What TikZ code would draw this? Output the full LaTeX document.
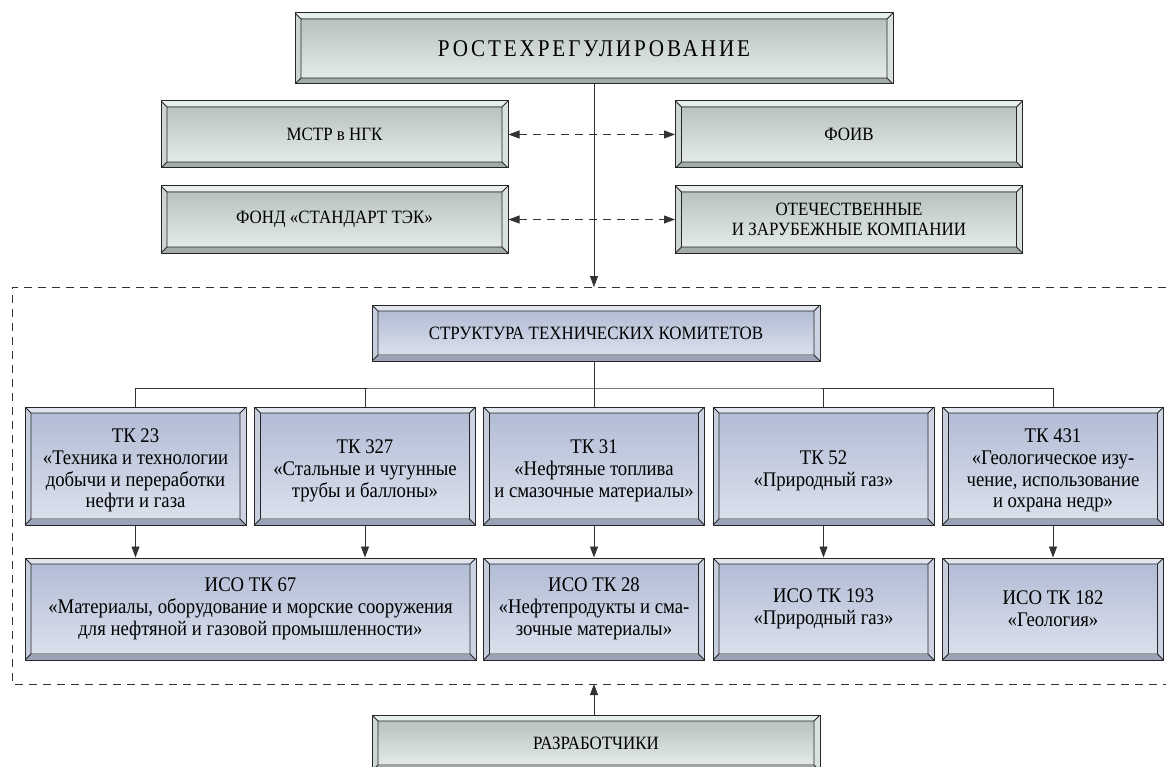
\documentclass[tikz,border=0pt]{standalone}
\usepackage{fontspec}
\setmainfont{Liberation Serif}
\newfontfamily\spacedfont[LetterSpace=12,FakeStretch=0.88]{Liberation Serif}
\newfontfamily\condfont[FakeStretch=0.9]{Liberation Serif}
\usetikzlibrary{arrows.meta,calc}
\newcommand\dnstrut{\rule{0pt}{23pt}}

\definecolor{boxline}{HTML}{262626}
\definecolor{conn}{HTML}{333333}
% green scheme
\definecolor{gT}{HTML}{E8EEEA}
\definecolor{gL}{HTML}{CDD6D1}
\definecolor{gR}{HTML}{D9E1DC}
\definecolor{gB}{HTML}{A2ACA7}
\definecolor{gIT}{HTML}{B8C3BE}
\definecolor{gIB}{HTML}{E4EBE6}
% blue scheme
\definecolor{bT}{HTML}{E0E5EF}
\definecolor{bL}{HTML}{C6CDDD}
\definecolor{bR}{HTML}{CDD3E2}
\definecolor{bB}{HTML}{9AA3B8}
\definecolor{bIT}{HTML}{B2BCD5}
\definecolor{bIB}{HTML}{DAE0EC}

\newcommand\bevpic[6]{%
  \coordinate (pA) at (path picture bounding box.south west);
  \coordinate (pB) at (path picture bounding box.north east);
  \coordinate (pa) at ([shift={(6pt,6pt)}]pA);
  \coordinate (pb) at ([shift={(-6pt,-6pt)}]pB);
  \fill[#4] (pA) -- (pB|-pA) -- (pb|-pa) -- (pa) -- cycle;
  \fill[#1] (pA|-pB) -- (pB) -- (pb) -- (pa|-pb) -- cycle;
  \fill[#2] (pA) -- (pA|-pB) -- (pa|-pb) -- (pa) -- cycle;
  \fill[#3] (pB|-pA) -- (pB) -- (pb) -- (pb|-pa) -- cycle;
  \shade[top color=#5,bottom color=#6] (pa) rectangle (pb);
  \draw[line width=0.9pt,draw=boxline] (pa) rectangle (pb)
    (pA) -- (pa) (pB) -- (pb) (pA|-pB) -- (pa|-pb) (pB|-pA) -- (pb|-pa);
}

\tikzset{
  bvbox/.style={rectangle, inner sep=2pt, draw=boxline, line width=1pt,
    align=center, text=black},
  gbox/.style={bvbox, path picture={\bevpic{gT}{gL}{gR}{gB}{gIT}{gIB}}},
  bbox/.style={bvbox, path picture={\bevpic{bT}{bL}{bR}{bB}{bIT}{bIB}}},
  wh/.style 2 args={minimum width=#1pt, minimum height=#2pt},
  captxt/.style={font=\condfont\fontsize{18.8}{20.5}\selectfont},
  tktxt/.style={font=\condfont\fontsize{20.8}{21.8}\selectfont},
  link/.style={draw=conn, line width=0.9pt},
  arr/.style={link, -{Triangle[length=11pt,width=8pt]}},
  darr/.style={link, dash pattern=on 8pt off 6pt,
    {Triangle[length=11pt,width=8pt]}-{Triangle[length=11pt,width=8pt]}},
  dframe/.style={draw=conn, line width=0.8pt, dash pattern=on 8pt off 6pt},
}

\begin{document}
\begin{tikzpicture}[x=1pt,y=-1pt]
\useasboundingbox (0,0) rectangle (1166,767);
\clip (0,0) rectangle (1166,767);

% dashed frame
\draw[dframe] (1180,287) -- (12,287) -- (12,684) -- (1180,684);
\coordinate (ftop) at (594,287);
\coordinate (fbot) at (594,684);

% upper part
\node[gbox, wh={598}{71}] (top) at (594,48.5)
  {\spacedfont\fontsize{24}{26}\selectfont РОСТЕХРЕГУЛИРОВАНИЕ};
\node[gbox, captxt, wh={347}{67}] (mstr) at (334.5,134.5) {МСТР в НГК};
\node[gbox, captxt, wh={347}{67}] (foiv) at (849,134.5) {ФОИВ};
\node[gbox, captxt, wh={347}{67}] (fond) at (334.5,219.5) {ФОНД «СТАНДАРТ ТЭК»};
\node[gbox, captxt, wh={347}{67}] (otech) at (849,219.5)
  {ОТЕЧЕСТВЕННЫЕ\\И ЗАРУБЕЖНЫЕ КОМПАНИИ};

\draw[arr] (top.south) -- (ftop);
\draw[darr] (mstr.east) -- (foiv.west);
\draw[darr] (fond.east) -- (otech.west);

% committees
\node[bbox, captxt, wh={448}{56}] (struct) at (596,333) {СТРУКТУРА ТЕХНИЧЕСКИХ КОМИТЕТОВ};

\node[bbox, tktxt, wh={221}{118}] (tk23) at (135.5,466)
  {\dnstrut ТК 23\\«Техника и технологии\\добычи и переработки\\нефти и газа};
\node[bbox, tktxt, wh={221}{118}] (tk327) at (365,466)
  {\dnstrut ТК 327\\«Стальные и чугунные\\трубы и баллоны»};
\node[bbox, tktxt, wh={221}{118}] (tk31) at (594,466)
  {\dnstrut ТК 31\\«Нефтяные топлива\\и смазочные материалы»};
\node[bbox, tktxt, wh={221}{118}] (tk52) at (823.5,466)
  {\dnstrut ТК 52\\«Природный газ»};
\node[bbox, tktxt, wh={221}{118}] (tk431) at (1053,466)
  {\dnstrut ТК 431\\«Геологическое изу-\\чение, использование\\и охрана недр»};

\node[bbox, tktxt, wh={451}{102}] (iso67) at (250.5,609)
  {ИСО ТК 67\\«Материалы, оборудование и морские сооружения\\для нефтяной и газовой промышленности»};
\node[bbox, tktxt, wh={221}{102}] (iso28) at (594,609)
  {ИСО ТК 28\\«Нефтепродукты и сма-\\зочные материалы»};
\node[bbox, tktxt, wh={221}{102}] (iso193) at (823.5,609)
  {ИСО ТК 193\\«Природный газ»};
\node[bbox, tktxt, wh={221}{102}] (iso182) at (1053,609)
  {ИСО ТК 182\\«Геология»};

\coordinate (bus) at (594,388);
\draw[link] (tk23.north) |- (bus) -| (tk431.north);
\draw[link] (tk327.north) -- (tk327.north |- bus);
\draw[link] (tk52.north) -- (tk52.north |- bus);
\draw[link] (tk31.north |- struct.south) -- (tk31.north);

\draw[arr] (tk23.south) -- (tk23.south |- iso67.north);
\draw[arr] (tk327.south) -- (tk327.south |- iso67.north);
\draw[arr] (tk31.south) -- (tk31.south |- iso28.north);
\draw[arr] (tk52.south) -- (iso193.north);
\draw[arr] (tk431.south) -- (iso182.north);

% developers
\node[gbox, captxt, wh={448}{56}] (razrab) at (596,743) {РАЗРАБОТЧИКИ};
\draw[arr] (fbot |- razrab.north) -- (fbot);
\end{tikzpicture}
\end{document}
